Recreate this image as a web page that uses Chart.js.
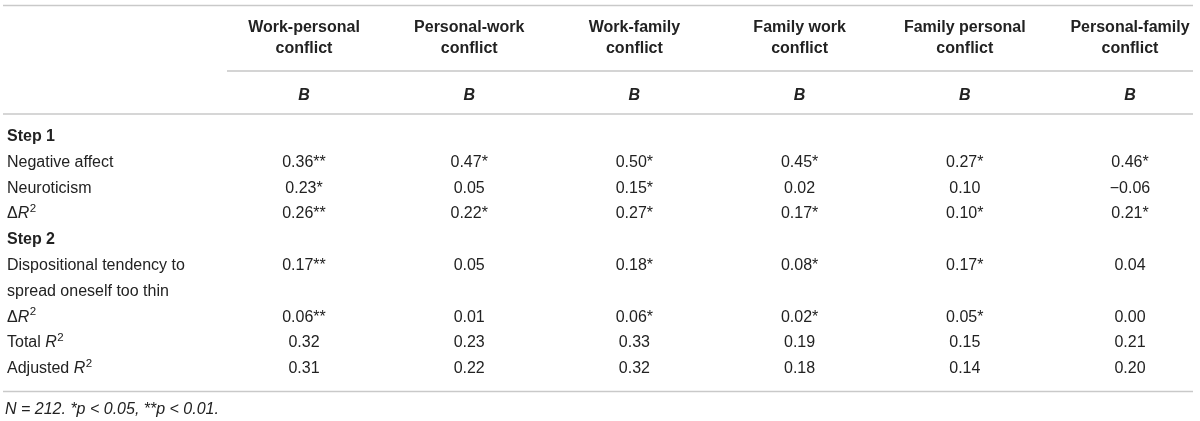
<!DOCTYPE html>
<html><head><meta charset="utf-8">
<script src="https://cdn.jsdelivr.net/npm/chart.js@4"></script>
<style>html,body{margin:0;padding:0;background:#fff}#wrap{width:1200px;height:421px;position:relative}</style>
</head><body><div id="wrap"><canvas id="c"></canvas></div>
<script>
// ---- data ----
const columns = ['Work-personal conflict','Personal-work conflict','Work-family conflict','Family work conflict','Family personal conflict','Personal-family conflict'];
const headerLines = [['Work-personal','conflict'],['Personal-work','conflict'],['Work-family','conflict'],['Family work','conflict'],['Family personal','conflict'],['Personal-family','conflict']];
const subHeader = 'B';
const rowKeys = ['step1','negAffect','neuroticism','deltaR2Step1','step2','dispositional','dispositional2','deltaR2Step2','totalR2','adjustedR2'];
const valueRows = ['negAffect','neuroticism','deltaR2Step1','dispositional','deltaR2Step2','totalR2','adjustedR2'];
const workPersonal   = ['0.36**','0.23*','0.26**','0.17**','0.06**','0.32','0.31'];
const personalWork   = ['0.47*','0.05','0.22*','0.05','0.01','0.23','0.22'];
const workFamily     = ['0.50*','0.15*','0.27*','0.18*','0.06*','0.33','0.32'];
const familyWork     = ['0.45*','0.02','0.17*','0.08*','0.02*','0.19','0.18'];
const familyPersonal = ['0.27*','0.10','0.10*','0.17*','0.05*','0.15','0.14'];
const personalFamily = ['0.46*','\u22120.06','0.21*','0.04','0.00','0.21','0.20'];
const columnValues = [workPersonal, personalWork, workFamily, familyWork, familyPersonal, personalFamily];
const rowLabels = {
  step1: [{t:'Step 1', b:true}],
  negAffect: [{t:'Negative affect'}],
  neuroticism: [{t:'Neuroticism'}],
  deltaR2Step1: [{t:'\u0394'},{t:'R', i:true},{t:'2', sup:true}],
  step2: [{t:'Step 2', b:true}],
  dispositional: [{t:'Dispositional tendency to'}],
  dispositional2: [{t:'spread oneself too thin'}],
  deltaR2Step2: [{t:'\u0394'},{t:'R', i:true},{t:'2', sup:true}],
  totalR2: [{t:'Total '},{t:'R', i:true},{t:'2', sup:true}],
  adjustedR2: [{t:'Adjusted '},{t:'R', i:true},{t:'2', sup:true}]
};
const footnote = 'N = 212. *p < 0.05, **p < 0.01.';

// ---- drawing ----
const FONT = "'Liberation Sans', Arial, Helvetica, sans-serif";
const FS = 16;
const TEXT = '#222';
const CAP = FS * 0.35;

function font(b, i, size) {
  return (i ? 'italic ' : '') + (b ? 'bold ' : '') + size + 'px ' + FONT;
}
function drawRich(ctx, segs, x, yCenter) {
  let cx = x;
  const base = yCenter + CAP;
  ctx.textAlign = 'left';
  ctx.textBaseline = 'alphabetic';
  segs.forEach(s => {
    const size = s.sup ? FS * 0.72 : FS;
    ctx.font = font(s.b, s.i, size);
    const y = s.sup ? base - FS * 0.40 : base;
    ctx.fillText(s.t, cx, y);
    cx += ctx.measureText(s.t).width + (s.i ? 0.5 : 0);
  });
}
function hline(ctx, x1, x2, y, color, w) {
  ctx.save();
  ctx.strokeStyle = color; ctx.lineWidth = w;
  ctx.beginPath(); ctx.moveTo(x1, y); ctx.lineTo(x2, y); ctx.stroke();
  ctx.restore();
}

const tablePlugin = {
  id: 'tablePlugin',
  afterDraw(chart) {
    const ctx = chart.ctx;
    const xs = chart.scales.x, ys = chart.scales.y;
    const W = chart.width;
    ctx.save();
    ctx.fillStyle = TEXT;
    // rules
    hline(ctx, 3, W - 7, 5.5, '#c9c9c9', 1.5);
    hline(ctx, 227, W - 7, 71, '#a9a9a9', 1.2);
    hline(ctx, 3, W - 7, 114, '#c9c9c9', 1.5);
    hline(ctx, 3, W - 7, 391.5, '#c9c9c9', 1.5);
    // headers
    ctx.textAlign = 'center';
    ctx.textBaseline = 'alphabetic';
    columns.forEach((c, i) => {
      const x = xs.getPixelForValue(i);
      ctx.font = font(true, false, FS);
      ctx.fillText(headerLines[i][0], x, 26 + CAP);
      ctx.fillText(headerLines[i][1], x, 47.5 + CAP);
      ctx.font = font(true, true, FS);
      ctx.fillText(subHeader, x, 94 + CAP);
    });
    // stub labels
    rowKeys.forEach((k, j) => {
      drawRich(ctx, rowLabels[k], 7, ys.getPixelForValue(j));
    });
    // cell values
    ctx.font = font(false, false, FS);
    ctx.textAlign = 'center';
    ctx.textBaseline = 'alphabetic';
    chart.data.datasets.forEach((ds, di) => {
      const meta = chart.getDatasetMeta(di);
      meta.data.forEach((el, k) => {
        ctx.fillText(ds.cellText[k], el.x, el.y + CAP);
      });
    });
    // footnote
    ctx.font = font(false, true, FS);
    ctx.textAlign = 'left';
    ctx.fillText(footnote, 5, 408 + CAP);
    ctx.restore();
  }
};

new Chart(document.getElementById('c'), {
  type: 'scatter',
  data: {
    datasets: columns.map((c, i) => ({
      label: c,
      data: valueRows.map(r => ({x: c, y: r})),
      cellText: columnValues[i],
      pointRadius: 0,
      pointHoverRadius: 0,
      showLine: false
    }))
  },
  options: {
    responsive: true,
    maintainAspectRatio: false,
    animation: false,
    events: [],
    layout: {padding: {left: 304, right: 70, top: 135.5, bottom: 53.5}},
    scales: {
      x: {type: 'category', labels: columns, offset: false, display: false},
      y: {type: 'category', labels: rowKeys, offset: false, display: false}
    },
    plugins: {legend: {display: false}, tooltip: {enabled: false}}
  },
  plugins: [tablePlugin]
});
</script>
</body></html>
